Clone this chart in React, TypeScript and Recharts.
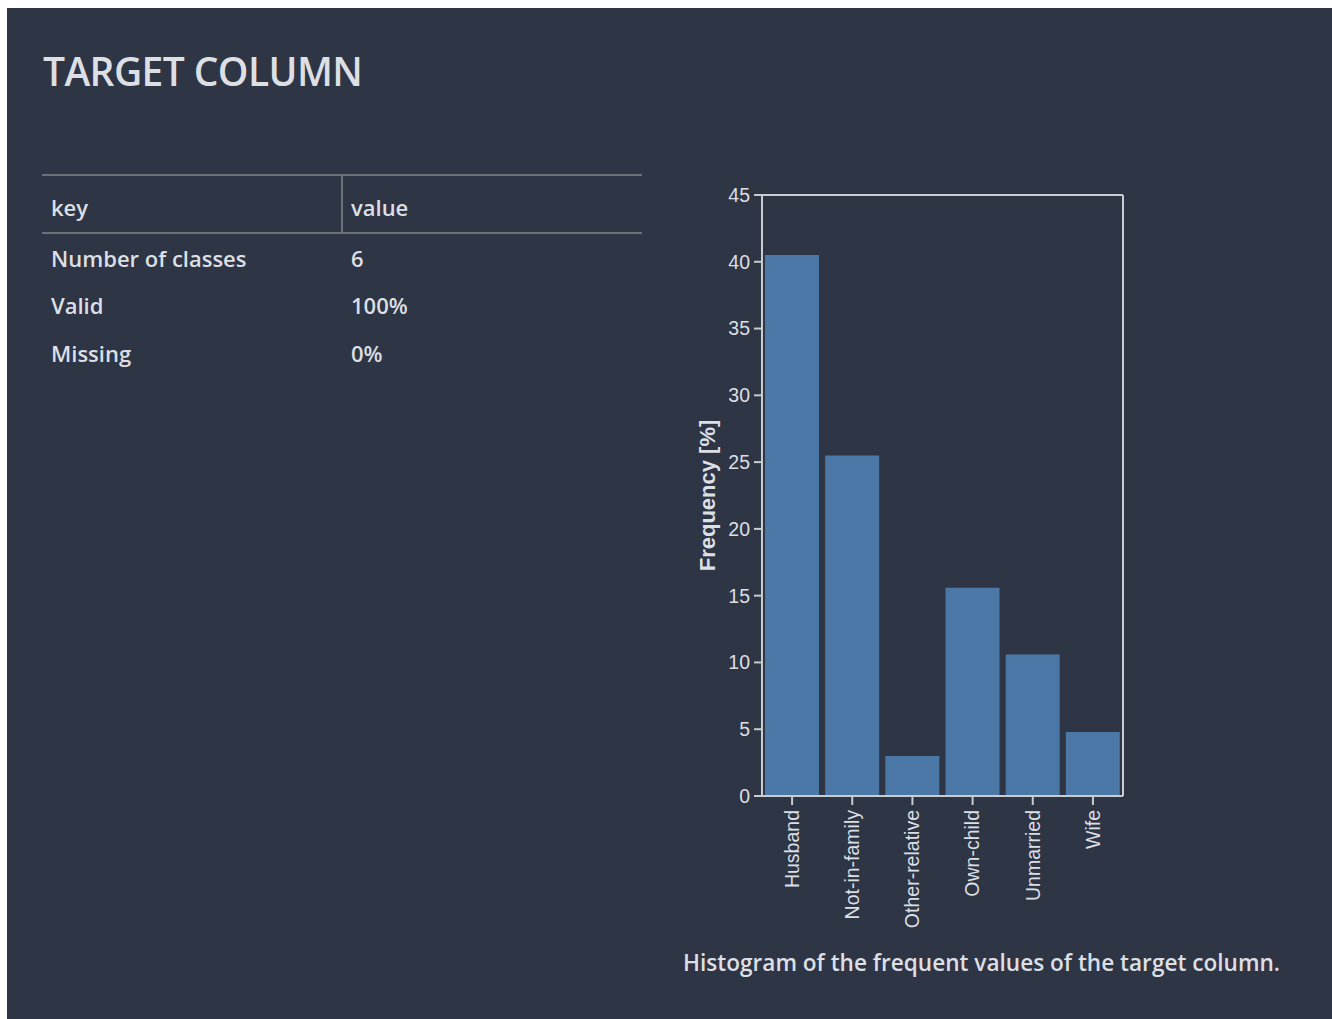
import { Bar, BarChart, CartesianGrid, XAxis, YAxis } from 'recharts';

// relationship categories of the target column and their share in %
const categories = ['Husband', 'Not-in-family', 'Other-relative', 'Own-child', 'Unmarried', 'Wife'];
const frequencies = [40.5, 25.5, 3.0, 15.6, 10.6, 4.8];
const yTicks = [0, 5, 10, 15, 20, 25, 30, 35, 40, 45];

const tableKeys = ['Number of classes', 'Valid', 'Missing'];
const tableValues = ['6', '100%', '0%'];

const BG = '#2e3545';
const TEXT = '#dcdfe3';
const AXIS = '#c9cdd2';
const BAR = '#4c78a8';
const RULE = '#6b707a';
const UI_FONT = '"Open Sans", sans-serif';
const CHART_FONT = '"Liberation Sans", Arial, sans-serif';

const chartData = categories.map((label, i) => ({ label, freq: frequencies[i] }));

// rotated category label, reads bottom to top and hangs under the tick
function XTick({ x, y, payload }: any) {
  return (
    <text
      x={x}
      y={y}
      transform={`rotate(-90, ${x}, ${y})`}
      textAnchor="end"
      dy="0.35em"
      fill={TEXT}
      fontSize={19.5}
      fontFamily={CHART_FONT}
    >
      {payload.value}
    </text>
  );
}

function YTitle({ viewBox }: any) {
  const cx = viewBox.x + 25;
  const cy = viewBox.y + viewBox.height / 2;
  return (
    <text
      x={cx}
      y={cy}
      transform={`rotate(-90, ${cx}, ${cy})`}
      textAnchor="middle"
      dy="0.35em"
      fill={TEXT}
      fontSize={22}
      fontWeight="bold"
      fontFamily={CHART_FONT}
    >
      Frequency [%]
    </text>
  );
}

const cellText = (left: number, top: number, text: string) => (
  <div
    key={`${left}-${top}`}
    style={{
      position: 'absolute',
      left,
      top,
      fontSize: 22,
      lineHeight: '22px',
      fontWeight: 600,
      color: TEXT,
      fontFamily: UI_FONT,
      whiteSpace: 'nowrap',
    }}
  >
    {text}
  </div>
);

export default function App() {
  const rowTops = [246.5, 293.5, 341.5];

  return (
    <div style={{ position: 'absolute', left: 0, top: 0, width: 1332, height: 1019, background: '#fff' }}>
      <div style={{ position: 'absolute', left: 7, top: 8, right: 0, bottom: 0, background: BG }} />

      <div
        style={{
          position: 'absolute',
          left: 43,
          top: 51,
          fontSize: 39,
          lineHeight: '39px',
          fontWeight: 600,
          letterSpacing: -0.6,
          color: TEXT,
          fontFamily: UI_FONT,
          whiteSpace: 'nowrap',
        }}
      >
        TARGET COLUMN
      </div>

      {/* key / value table */}
      <div style={{ position: 'absolute', left: 42, top: 174, width: 600, height: 0, borderTop: `2px solid ${RULE}` }} />
      <div style={{ position: 'absolute', left: 42, top: 232, width: 600, height: 0, borderTop: `2px solid ${RULE}` }} />
      <div style={{ position: 'absolute', left: 341, top: 175, width: 0, height: 58, borderLeft: `2px solid ${RULE}` }} />
      {cellText(51, 195.5, 'key')}
      {cellText(351, 195.5, 'value')}
      {tableKeys.map((k, i) => cellText(51, rowTops[i], k))}
      {tableValues.map((v, i) => cellText(351, rowTops[i], v))}

      <div style={{ position: 'absolute', left: 680, top: 180 }}>
        <BarChart
          width={460}
          height={760}
          data={chartData}
          margin={{ top: 15, right: 17, bottom: 4, left: 2 }}
          barCategoryGap={3}
        >
          {/* top and right edges of the plot frame */}
          <CartesianGrid
            stroke={AXIS}
            strokeWidth={2}
            horizontalCoordinatesGenerator={({ offset }: any) => [offset.top]}
            verticalCoordinatesGenerator={({ offset }: any) => [offset.left + offset.width]}
          />
          <XAxis
            dataKey="label"
            height={140}
            interval={0}
            tickSize={9}
            tickMargin={5}
            tick={<XTick />}
            axisLine={{ stroke: AXIS, strokeWidth: 2 }}
            tickLine={{ stroke: AXIS, strokeWidth: 2 }}
          />
          <YAxis
            type="number"
            domain={[0, 45]}
            ticks={yTicks}
            width={80}
            tickSize={8}
            tickMargin={4}
            tick={{ fill: TEXT, fontSize: 19.5, fontFamily: CHART_FONT }}
            axisLine={{ stroke: AXIS, strokeWidth: 2 }}
            tickLine={{ stroke: AXIS, strokeWidth: 2 }}
            label={{ content: <YTitle /> }}
          />
          <Bar dataKey="freq" fill={BAR} isAnimationActive={false} />
        </BarChart>
      </div>

      <div
        style={{
          position: 'absolute',
          left: 683,
          top: 951.5,
          fontSize: 22.6,
          lineHeight: '22px',
          fontWeight: 600,
          color: TEXT,
          fontFamily: UI_FONT,
          whiteSpace: 'nowrap',
        }}
      >
        Histogram of the frequent values of the target column.
      </div>
    </div>
  );
}
